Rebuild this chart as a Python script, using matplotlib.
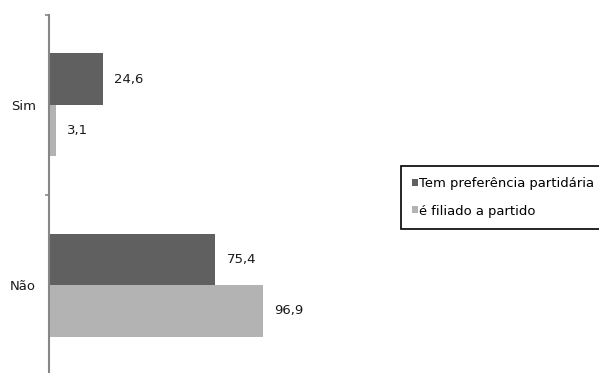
import matplotlib.pyplot as plt
from matplotlib.ticker import FixedLocator

categories = ["Não", "Sim"]
series_names = ["Tem preferência partidária", "é filiado a partido"]
preferencia = [75.4, 24.6]
filiado = [96.9, 3.1]
colors = ["#606060", "#b3b3b3"]

W, H = 599, 373
fig = plt.figure(figsize=(W / 100, H / 100), dpi=100)

# axes placed in pixel units; the lower band runs slightly past the bottom edge
left, top, width, height = 48.7, 14.7, 265.2, 360.6
ax = fig.add_axes([left / W, (H - top - height) / H, width / W, height / H])

bar_h = 0.286
pos = list(range(len(categories)))
b1 = ax.barh([p + bar_h / 2 for p in pos], preferencia, height=bar_h,
             color=colors[0], label=series_names[0])
b2 = ax.barh([p - bar_h / 2 for p in pos], filiado, height=bar_h,
             color=colors[1], label=series_names[1])

for bars, vals in ((b1, preferencia), (b2, filiado)):
    for rect, v in zip(bars, vals):
        ax.annotate(f"{v:.1f}".replace(".", ","),
                    xy=(rect.get_width(), rect.get_y() + rect.get_height() / 2),
                    xytext=(8.2, 0), textcoords="offset points",
                    ha="left", va="center", fontsize=9.5, color="#1a1a1a")

ax.set_xlim(0, 120)
ax.set_ylim(-0.5, len(categories) - 0.5)

for s in ("top", "right", "bottom"):
    ax.spines[s].set_visible(False)
ax.spines["left"].set_color("#868686")
ax.spines["left"].set_linewidth(1.5)
ax.set_xticks([])

ax.set_yticks(pos)
ax.set_yticklabels(categories, fontsize=9.5, color="#1a1a1a")
ax.yaxis.set_minor_locator(FixedLocator([-0.5, 0.5, 1.5]))
ax.tick_params(axis="y", which="major", length=0, pad=9)
ax.tick_params(axis="y", which="minor", length=3, width=1.2, color="#868686")

leg = fig.legend(handles=[b1, b2], labels=series_names,
                 loc="upper left", bbox_to_anchor=(401 / W, 1 - 166 / H),
                 fontsize=9.45, frameon=True, fancybox=False, framealpha=1,
                 edgecolor="black", handlelength=0.45, handleheight=0.45,
                 handletextpad=0.08, labelspacing=1.1, borderpad=0.85,
                 borderaxespad=0)
leg.get_frame().set_linewidth(1.2)

fig.savefig("out.png", dpi=100)
